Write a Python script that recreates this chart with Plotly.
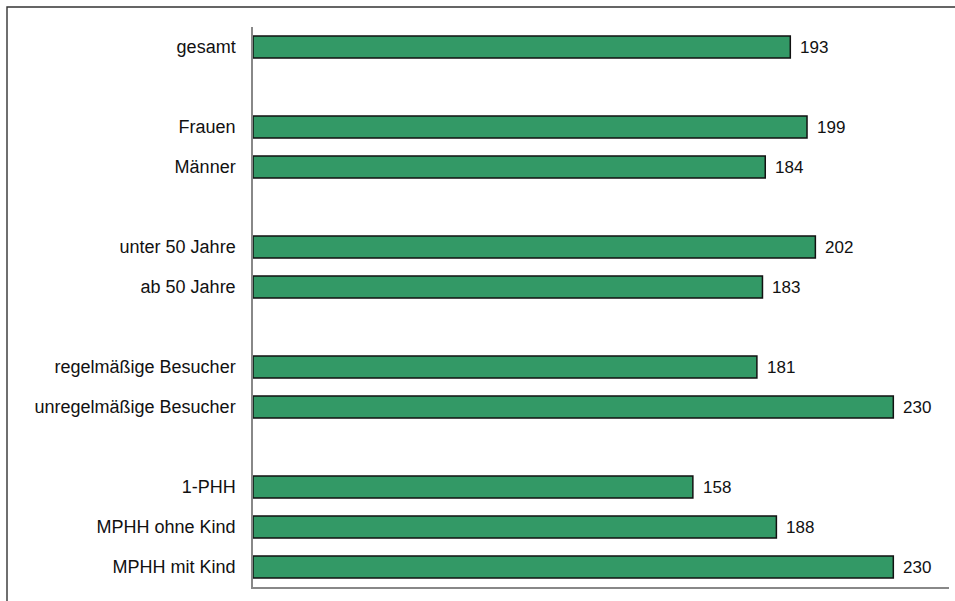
import plotly.graph_objects as go

categories = ["gesamt", " ", "Frauen", "Männer", "  ", "unter 50 Jahre", "ab 50 Jahre", "   ",
              "regelmäßige Besucher", "unregelmäßige Besucher", "    ",
              "1-PHH", "MPHH ohne Kind", "MPHH mit Kind"]
values = [193, None, 199, 184, None, 202, 183, None, 181, 230, None, 158, 188, 230]

FONT = "Liberation Sans, Arial, sans-serif"

fig = go.Figure()
fig.add_trace(go.Bar(
    x=values, y=categories, orientation="h",
    width=0.55,
    marker=dict(color="#339966", line=dict(color="#111111", width=1.5)),
    hoverinfo="x+y",
))

for c, v in zip(categories, values):
    if v is None:
        continue
    fig.add_annotation(x=v, y=c, text=str(v), showarrow=False, xanchor="left",
                       xshift=8, font=dict(family=FONT, size=17, color="#111111"))

W, H = 955, 601
ml, mr, mt, mb = 253, 6, 27, 14
pw, ph = W - ml - mr, H - mt - mb


def px_x(p):
    return (p - ml) / pw


def px_y(p):
    return (H - mb - p) / ph


fig.add_shape(type="rect", xref="paper", yref="paper",
              x0=px_x(7), x1=px_x(970), y0=px_y(7), y1=px_y(620),
              line=dict(color="#333333", width=1.4), fillcolor="rgba(0,0,0,0)", layer="above")

fig.update_layout(
    width=W, height=H,
    margin=dict(l=ml, r=mr, t=mt, b=mb),
    paper_bgcolor="white", plot_bgcolor="white",
    showlegend=False,
    font=dict(family=FONT, size=18, color="#111111"),
    bargap=0.45,
)
fig.update_xaxes(range=[0, 250], showgrid=False, zeroline=False, showticklabels=False,
                 ticks="", showline=True, linecolor="#888888", linewidth=1.5)
fig.update_yaxes(categoryorder="array", categoryarray=categories, autorange="reversed",
                 showgrid=False, zeroline=False, ticks="", showline=True,
                 linecolor="#888888", linewidth=1.5, ticklabelstandoff=12,
                 tickfont=dict(family=FONT, size=18, color="#111111"))

fig.write_html("out.html")
